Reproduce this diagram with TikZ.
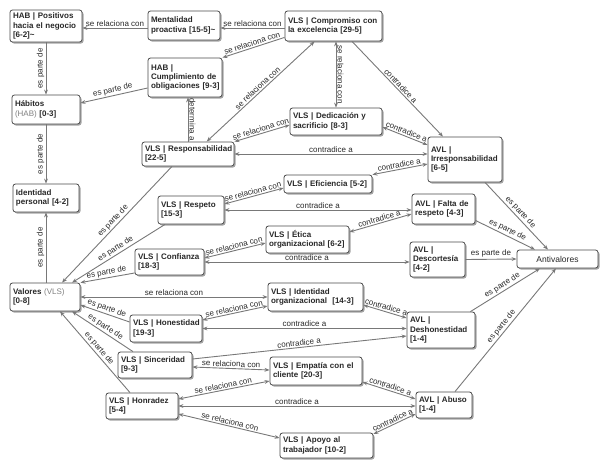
\documentclass[tikz,border=0pt]{standalone}
\usepackage{fontspec}
\setmainfont{Liberation Sans}
\usetikzlibrary{arrows.meta,shadows}
\definecolor{lnc}{RGB}{120,120,120}
\definecolor{bdc}{RGB}{75,75,75}
\definecolor{txc}{RGB}{40,40,40}
\definecolor{lbc}{RGB}{40,40,40}
\definecolor{shc}{RGB}{165,165,165}
\begin{document}
\begin{tikzpicture}[x=1pt,y=-1pt,
 vbox/.style={draw=bdc, line width=0.8pt, rounded corners=2.5pt, fill=white, align=left,
   inner xsep=3pt, inner ysep=1.5pt, text=txc, font=\bfseries\fontsize{8}{9.4}\selectfont,
   drop shadow={shadow xshift=1.5pt, shadow yshift=-1.5pt, fill=shc, opacity=1},
   execute at begin node={\hyphenpenalty=10000\exhyphenpenalty=10000}},
 conn/.style={draw=lnc, line width=0.9pt},
 one/.style={conn, -{Stealth[length=5pt,width=3.8pt]}},
 two/.style={conn, {Stealth[length=5pt,width=3.8pt]}-{Stealth[length=5pt,width=3.8pt]}},
 lbl/.style={font=\fontsize{8}{9}\selectfont, text=lbc, inner sep=1.2pt},
]
\useasboundingbox (0,0) rectangle (605,467);

% nodes
\node[vbox, text width=66pt, minimum height=32pt] (hab1) at (46,26) {HAB~|~Positivos\\hacia~el~negocio\\{[6-2]\textasciitilde}};
\node[vbox, text width=66pt, minimum height=29pt] (ment) at (184,25.5) {Mentalidad\\proactiva~[15-5]\textasciitilde};
\node[vbox, text width=91pt, minimum height=30pt] (comp) at (333.5,26) {VLS~|~Compromiso~con\\la~excelencia~[29-5]};
\node[vbox, text width=68pt, minimum height=39pt] (cump) at (185,77.5) {HAB~|\\Cumplimiento~de\\obligaciones~[9-3]};
\node[vbox, text width=62pt, minimum height=29pt] (hab) at (46,109.5) {Hábitos\\{\mdseries\color{gray}(HAB)}~[0-3]};
\node[vbox, text width=86pt, minimum height=27pt] (ded) at (336,121.5) {VLS~|~Dedicación~y\\sacrificio~[8-3]};
\node[vbox, text width=68pt, minimum height=45pt] (irr) at (465,159.5) {AVL~|\\Irresponsabilidad\\{[6-5]}};
\node[vbox, text width=86pt, minimum height=24pt] (resp) at (188,154) {VLS~|~Responsabilidad\\{[22-5]}};
\node[vbox, text width=60pt, minimum height=28pt] (idp) at (46,198) {Identidad\\personal~[4-2]};
\node[vbox, text width=82pt, minimum height=18pt] (eff) at (328,184) {VLS~|~Eficiencia~[5-2]};
\node[vbox, text width=60pt, minimum height=28pt] (rsp) at (191,210) {VLS~|~Respeto\\{[15-3]}};
\node[vbox, text width=57pt, minimum height=30pt] (fr) at (443.5,209) {AVL~|~Falta~de\\respeto~[4-3]};
\node[vbox, text width=77pt, minimum height=27pt] (eti) at (307.5,239.5) {VLS~|~Ética\\organizacional~[6-2]};
\node[vbox, text width=63pt, minimum height=26pt] (conf) at (169.5,262) {VLS~|~Confianza\\{[18-3]}};
\node[vbox, text width=49pt, minimum height=35pt] (desc) at (437.5,259.5) {AVL~|\\Descortesía\\{[4-2]}};
\node[vbox, align=center, font=\fontsize{8.5}{10}\selectfont, text width=75pt, minimum height=18pt] (anti) at (557.5,259) {Antivalores};
\node[vbox, text width=64pt, minimum height=28pt] (val) at (45,297) {Valores~{\mdseries\color{gray}(VLS)}\\{[0-8]}};
\node[vbox, text width=89pt, minimum height=28pt] (ido) at (315.5,297) {VLS~|~Identidad\\organizacional~~[14-3]};
\node[vbox, text width=66pt, minimum height=27pt] (hon) at (166,328.5) {VLS~|~Honestidad\\{[19-3]}};
\node[vbox, text width=62pt, minimum height=36pt] (desh) at (441,330) {AVL~|\\Deshonestidad\\{[1-4]}};
\node[vbox, text width=68pt, minimum height=26pt] (sin) at (155,365) {VLS~|~Sinceridad\\{[9-3]}};
\node[vbox, text width=86pt, minimum height=28pt] (emp) at (316,371) {VLS~|~Empatía~con~el\\cliente~[20-3]};
\node[vbox, text width=66pt, minimum height=26pt] (hnr) at (142,406) {VLS~|~Honradez\\{[5-4]}};
\node[vbox, text width=50pt, minimum height=26pt] (abu) at (444,405) {AVL~|~Abuso\\{[1-4]}};
\node[vbox, text width=87pt, minimum height=25pt] (apo) at (326.5,445.5) {VLS~|~Apoyo~al\\trabajador~[10-2]};

% connectors
\draw[one] ([yshift=-2.5pt]ment.west) -- node[lbl,midway,above]{se relaciona con} ([yshift=-2pt]hab1.east);
\draw[one] ([yshift=-2pt]comp.west) -- node[lbl,midway,above]{se relaciona con} ([yshift=-2.5pt]ment.east);
\draw[one] ([yshift=4pt]comp.south west) -- node[lbl,midway,sloped,above]{se relaciona con} (cump.north east);
\draw[two] ([xshift=30pt]comp.south west) -- node[lbl,midway,sloped,above]{se relaciona con} ([xshift=65pt]resp.north west);
\draw[two] (comp.south -| ded.north) -- node[lbl,midway,rotate=-90,anchor=south]{se relaciona con} (ded.north);
\draw[one] ([xshift=18.5pt]comp.south) -- node[lbl,midway,sloped,above]{contradice a} ([xshift=-22pt]irr.north);
\draw[one] ([yshift=-10.5pt]cump.west) -- node[lbl,midway,sloped,above]{es parte de} ([yshift=6.5pt]hab.east);
\draw[one] (hab1.south) -- node[lbl,midway,rotate=90,anchor=south]{es parte de} (hab.north);
\draw[one] (resp.north) -- node[lbl,midway,rotate=-90,anchor=south]{determina a} (resp.north |- cump.south);
\draw[one] (hab.south) -- node[lbl,midway,rotate=90,anchor=south]{es parte de} (idp.north);
\draw[one] (idp.south |- val.north) -- node[lbl,midway,rotate=90,anchor=south]{es parte de} (idp.south);
\draw[two] ([yshift=-3.5pt]ded.west) -- node[lbl,midway,sloped,above]{se relaciona con} (resp.north east);
\draw[two] ([yshift=-5.5pt]ded.east) -- node[lbl,midway,sloped,above]{contradice a} ([yshift=14.5pt]irr.west);
\draw[two] (resp.east) -- node[lbl,midway,above]{contradice a} (resp.east -| irr.west);
\draw[two] ([yshift=-4.5pt]irr.west) -- node[lbl,midway,sloped,above]{contradice a} (eff.north east);
\draw[one] ([xshift=20pt]irr.south) -- node[lbl,midway,sloped,above]{es parte de} ([xshift=-9.5pt]anti.north);
\draw[one] ([xshift=-16pt]resp.south) -- node[lbl,midway,sloped,above]{es parte de} ([xshift=17pt]val.north);
\draw[one] ([xshift=-26pt]rsp.south) -- node[lbl,midway,sloped,above]{es parte de} ([xshift=27pt]val.north);
\draw[one] ([yshift=-11pt]conf.west) -- node[lbl,midway,sloped,above]{es parte de} (val.north east);
\draw[two] ([yshift=6pt]rsp.east) -- node[lbl,midway,sloped,above]{se relaciona con} ([yshift=-4pt]eff.west);
\draw[two] (fr.west |- rsp.east) -- node[lbl,midway,above]{contradice a} (rsp.east);
\draw[two] ([yshift=-5pt]fr.west) -- node[lbl,midway,sloped,above]{contradice a} ([yshift=7.5pt]eti.east);
\draw[one] ([yshift=4pt]fr.south east) -- node[lbl,midway,sloped,above]{es parte de} ([xshift=-22.5pt]anti.north);
\draw[two] ([yshift=4pt]conf.east) -- node[lbl,midway,sloped,above]{se relaciona con} ([yshift=-3.5pt]eti.west);
\draw[two] (conf.east) -- node[lbl,midway,above]{contradice a} (conf.east -| desc.west);
\draw[one] (desc.east) -- node[lbl,midway,above]{es parte de} (anti.west);
\draw[two] (val.east) -- node[lbl,midway,above]{se relaciona con} (ido.west);
\draw[one] ([yshift=6.5pt]hon.west) -- node[lbl,midway,sloped,above]{es parte de} ([yshift=-8pt]val.east);
\draw[one] ([xshift=-22pt]sin.north) -- node[lbl,midway,sloped,above]{es parte de} ([xshift=27pt]val.south);
\draw[one] ([xshift=-12pt]hnr.north) -- node[lbl,midway,sloped,above]{es parte de} ([xshift=15pt]val.south);
\draw[two] ([yshift=8.5pt]hon.east) -- node[lbl,midway,sloped,above]{se relaciona con} ([yshift=-9pt]ido.west);
\draw[two] ([yshift=-8pt]ido.east) -- node[lbl,midway,sloped,above]{contradice a} ([yshift=12pt]desh.west);
\draw[two] (desh.west |- hon.east) -- node[lbl,midway,above]{contradice a} (hon.east);
\draw[one] ([yshift=6pt]sin.east) -- node[lbl,midway,sloped,above]{contradice a} ([yshift=-6pt]desh.west);
\draw[one] ([xshift=-5pt]desh.north east) -- node[lbl,midway,sloped,above]{es parte de} ([xshift=-17.5pt]anti.south);
\draw[two] ([yshift=-2pt]sin.east) -- node[lbl,midway,sloped,above]{se relaciona con} ([yshift=1pt]emp.west);
\draw[two] ([yshift=7pt]hnr.east) -- node[lbl,midway,sloped,above]{se relaciona con} ([yshift=-10pt]emp.west);
\draw[two] ([yshift=-11pt]emp.east) -- node[lbl,midway,sloped,above]{contradice a} ([yshift=6pt]abu.west);
\draw[two] (abu.west |- hnr.east) -- node[lbl,midway,above]{contradice a} (hnr.east);
\draw[two] ([yshift=-8pt]hnr.east) -- node[lbl,midway,sloped,above]{se relaciona con} ([yshift=7.5pt]apo.west);
\draw[two] ([yshift=11.5pt]apo.east) -- node[lbl,midway,sloped,above]{contradice a} ([yshift=-9pt]abu.west);
\draw[one] ([xshift=11pt]abu.north) -- node[lbl,midway,sloped,above]{es parte de} ([xshift=-1.5pt]anti.south);
\end{tikzpicture}
\end{document}
